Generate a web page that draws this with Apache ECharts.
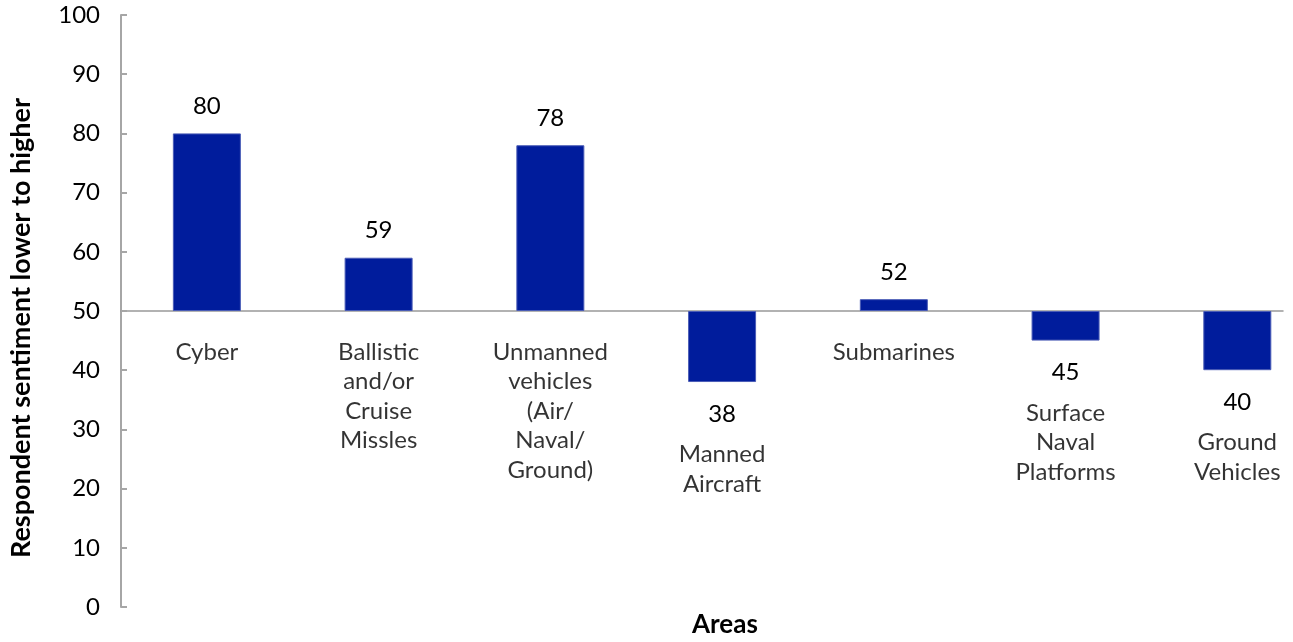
<!DOCTYPE html>
<html>
<head>
<meta charset="utf-8">
<script src="https://cdn.jsdelivr.net/npm/echarts@6/dist/echarts.min.js"></script>
<style>
  html, body { margin: 0; padding: 0; background: #ffffff; }
  #chart { width: 1293px; height: 642px; }
</style>
</head>
<body>
<div id="chart"></div>
<script>
// Areas surveyed and the respondents' sentiment score for each
const categories = [
  'Cyber',
  'Ballistic and/or Cruise Missles',
  'Unmanned vehicles (Air/ Naval/ Ground)',
  'Manned Aircraft',
  'Submarines',
  'Surface Naval Platforms',
  'Ground Vehicles'
];
const sentiment = [80, 59, 78, 38, 52, 45, 40];
// Neutral sentiment: bars grow up or down from here
const neutral = 50;
const yAxisMin = 0;
const yAxisMax = 100;
const yAxisStep = 10;

const FONT = 'Lato, "Open Sans", sans-serif';
const TEXT = '#000000';
const AXIS_GREY = '#a6a6a6';
const BAR_BLUE = '#001c9c';

// Values are measured from the neutral line so the bars start there
const barData = sentiment.map((v, i) => {
  const up = v >= neutral;
  return {
    value: [i, v - neutral],
    label: { position: up ? 'top' : 'bottom', distance: up ? 15 : 20 }
  };
});

// Anchor for each area name: the neutral line for higher scores,
// the bar end for lower ones (leaving room for the value label)
const nameData = sentiment.map((v, i) => {
  const up = v >= neutral;
  return {
    value: [i, up ? 0 : v - neutral],
    label: { distance: up ? 26 : 57 }
  };
});

const chart = echarts.init(document.getElementById('chart'), null, { renderer: 'canvas' });

chart.setOption({
  animation: false,
  backgroundColor: '#ffffff',
  title: {
    text: 'Areas',
    left: 692,
    top: 612,
    padding: 0,
    textStyle: { fontFamily: FONT, fontSize: 26, fontWeight: 'bold', color: TEXT }
  },
  grid: { left: 121, right: 10, top: 15, bottom: 35, containLabel: false },
  xAxis: {
    type: 'value',
    min: -0.5,
    max: 6.266,
    axisLine: { show: true, onZero: true, lineStyle: { color: '#999999', width: 1.5 } },
    axisTick: { show: false },
    axisLabel: { show: false },
    splitLine: { show: false }
  },
  yAxis: {
    type: 'value',
    min: yAxisMin - neutral,
    max: yAxisMax - neutral,
    interval: yAxisStep,
    name: 'Respondent sentiment lower to higher',
    nameLocation: 'middle',
    nameGap: 86,
    nameTextStyle: {
      fontFamily: FONT, fontSize: 27, fontWeight: 'bold', color: TEXT,
      padding: [0, 34, 0, 0]
    },
    axisLine: { show: true, onZero: false, lineStyle: { color: AXIS_GREY, width: 2 } },
    axisTick: { show: true, inside: true, length: 6, lineStyle: { color: AXIS_GREY, width: 2 } },
    axisLabel: {
      fontFamily: FONT, fontSize: 24, color: TEXT, margin: 21,
      formatter: (v) => String(v + neutral)
    },
    splitLine: { show: false }
  },
  series: [
    {
      type: 'bar',
      barWidth: 68,
      data: barData,
      itemStyle: { color: BAR_BLUE, borderColor: '#4a5cb6', borderWidth: 1 },
      label: {
        show: true,
        fontFamily: FONT,
        fontSize: 24,
        color: TEXT,
        formatter: (p) => String(sentiment[p.dataIndex])
      },
      z: 3
    },
    {
      type: 'scatter',
      symbol: 'rect',
      symbolSize: 1,
      itemStyle: { color: 'rgba(0,0,0,0)' },
      data: nameData,
      silent: true,
      label: {
        show: true,
        position: 'bottom',
        align: 'center',
        fontFamily: FONT,
        fontSize: 24,
        lineHeight: 29.5,
        color: TEXT,
        formatter: (p) => categories[p.dataIndex].split(' ').join('\n')
      },
      z: 4
    }
  ]
});
</script>
</body>
</html>
